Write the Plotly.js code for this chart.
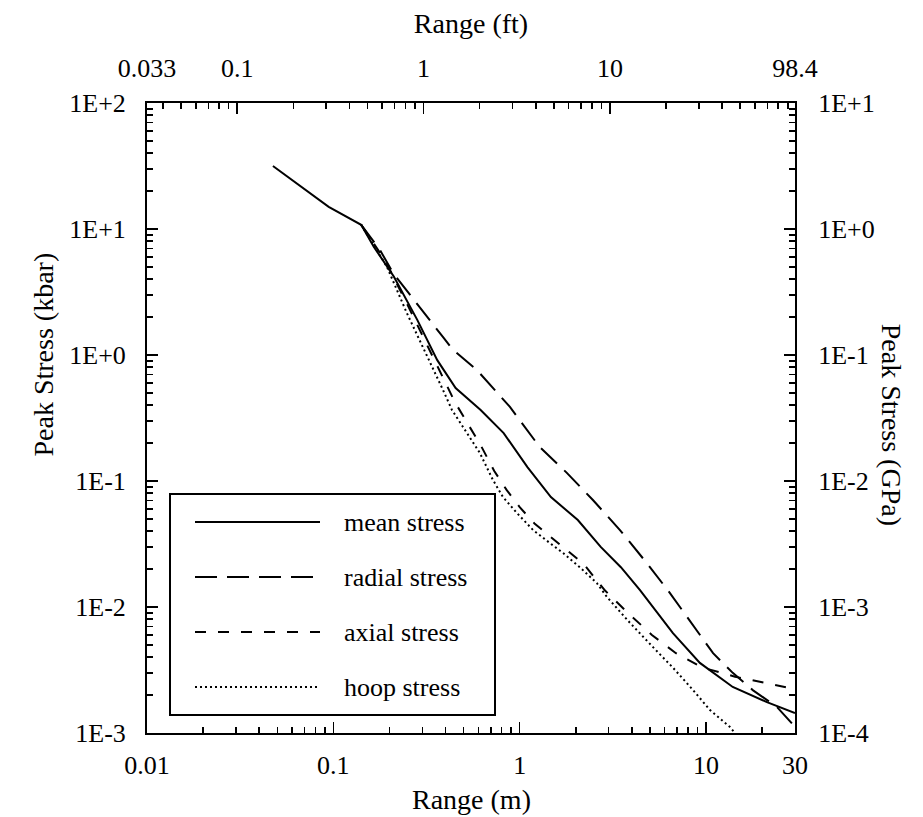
<!DOCTYPE html>
<html>
<head>
<meta charset="utf-8">
<script src="https://cdn.plot.ly/plotly-3.0.1.min.js"></script>
<style>html,body{margin:0;padding:0;background:#fff;}#chart{width:923px;height:817px;}</style>
</head>
<body>
<div id="chart"></div>
<script>
// ---- data (Range in m, Peak stress in kbar) ----
const seriesNames = ["mean stress", "radial stress", "axial stress", "hoop stress"];

const meanRange  = [0.0474, 0.0944, 0.141, 0.165, 0.211, 0.282, 0.361, 0.453, 0.617, 0.82, 1.10, 1.47, 2.05, 2.72, 3.49, 4.42, 6.64, 9.26, 13.9, 21.2, 30];
const meanStress = [31.6, 15.0, 10.8, 7.2, 4.2, 1.9, 0.91, 0.547, 0.366, 0.24, 0.129, 0.0746, 0.049, 0.030, 0.0207, 0.0136, 0.0062, 0.0036, 0.00232, 0.00176, 0.00144];

const radialRange  = [0.141, 0.178, 0.209, 0.292, 0.387, 0.438, 0.589, 0.886, 1.28, 1.79, 2.47, 3.45, 4.81, 6.40, 7.89, 10.9, 13.9, 17.8, 24.0, 30];
const radialStress = [10.8, 6.8, 4.48, 2.40, 1.39, 1.10, 0.76, 0.387, 0.186, 0.116, 0.0706, 0.0408, 0.0223, 0.0129, 0.0083, 0.0043, 0.0030, 0.00219, 0.00161, 0.00112];

const axialRange  = [0.141, 0.19, 0.25, 0.31, 0.36, 0.40, 0.45, 0.53, 0.62, 0.73, 0.85, 1.0, 1.2, 1.5, 1.8, 2.2, 2.87, 3.80, 5.12, 6.89, 9.6, 14.3, 20.7, 27];
const axialStress = [10.8, 5.6, 2.5, 1.3, 0.85, 0.6, 0.42, 0.28, 0.19, 0.12, 0.085, 0.062, 0.046, 0.035, 0.028, 0.022, 0.0135, 0.009, 0.006, 0.0043, 0.0033, 0.0028, 0.0025, 0.0023];

const hoopRange  = [0.141, 0.194, 0.248, 0.303, 0.342, 0.387, 0.433, 0.521, 0.611, 0.718, 0.813, 0.966, 1.18, 1.45, 1.71, 2.10, 2.59, 2.94, 3.90, 5.19, 6.64, 8.49, 10.5, 13.4, 14.3];
const hoopStress = [10.8, 5.0, 2.15, 1.16, 0.80, 0.53, 0.366, 0.24, 0.167, 0.102, 0.0746, 0.0557, 0.0408, 0.0322, 0.0268, 0.0207, 0.0155, 0.012, 0.0075, 0.0048, 0.0033, 0.0022, 0.00152, 0.00112, 0.001];

// ---- tick labels ----
const bottomTickVals = [0.01, 0.1, 1, 10, 30];
const bottomTickText = ["0.01", "0.1", "1", "10", "30"];
const topTickVals = [0.0328084, 0.1, 1, 10, 98.4252];
const topTickText = ["0.033", "0.1", "1", "10", "98.4"];
const leftTickVals = [0.001, 0.01, 0.1, 1, 10, 100];
const leftTickText = ["1E-3", "1E-2", "1E-1", "1E+0", "1E+1", "1E+2"];
const rightTickVals = [0.0001, 0.001, 0.01, 0.1, 1, 10];
const rightTickText = ["1E-4", "1E-3", "1E-2", "1E-1", "1E+0", "1E+1"];

const M_TO_FT = 3.28084;
const KBAR_TO_GPA = 0.1;

function minorVals(lo, hi) {
  const out = [];
  for (let d = lo; d < hi; d++) {
    for (let k = 2; k <= 9; k++) out.push(k * Math.pow(10, d));
  }
  return out;
}

const FONT = "Liberation Serif, Times New Roman, serif";
const FS = 26;      // tick labels
const FT = 28;      // axis titles
const FL = 26;      // legend text
const dashes = ["solid", "22px,10px", "11px,12px", "2px,3px"];
const xs = [meanRange, radialRange, axialRange, hoopRange];
const ys = [meanStress, radialStress, axialStress, hoopStress];

const traces = seriesNames.map((n, i) => ({
  type: "scatter", mode: "lines", name: n,
  x: xs[i], y: ys[i],
  line: {color: "#000", width: 2, dash: dashes[i]},
  showlegend: false, hoverinfo: "x+y+name"
}));
// mean stress again in ft / GPa units on the secondary axes (coincides exactly)
traces.push({
  type: "scatter", mode: "lines", name: "mean stress (ft, GPa)",
  x: meanRange.map(v => v * M_TO_FT), y: meanStress.map(v => v * KBAR_TO_GPA),
  xaxis: "x2", yaxis: "y2",
  line: {color: "rgba(0,0,0,0)", width: 0}, showlegend: false, hoverinfo: "skip"
});

const xMin = 0.01, xMax = 30;
const axCommon = {
  type: "log", showline: true, linecolor: "#000", linewidth: 2,
  ticks: "inside", ticklen: 11, tickwidth: 1.5, tickcolor: "#000",
  showgrid: false, zeroline: false, tickmode: "array",
  tickfont: {family: FONT, size: FS, color: "#000"},
  fixedrange: true
};
const minorCommon = {ticks: "inside", ticklen: 6, tickwidth: 1.5, tickcolor: "#000"};

const layout = {
  width: 923, height: 817,
  margin: {l: 147, r: 128, t: 103, b: 84},
  paper_bgcolor: "#fff", plot_bgcolor: "#fff",
  font: {family: FONT, color: "#000"},
  xaxis: Object.assign({}, axCommon, {
    range: [Math.log10(xMin), Math.log10(xMax)],
    tickvals: bottomTickVals, ticktext: bottomTickText,
    ticklabelstandoff: 8,
    minor: Object.assign({tickvals: minorVals(-2, 2).filter(v => v < xMax)}, minorCommon)
  }),
  xaxis2: Object.assign({}, axCommon, {
    overlaying: "x", side: "top", anchor: "y2",
    range: [Math.log10(xMin * M_TO_FT), Math.log10(xMax * M_TO_FT)],
    tickvals: topTickVals, ticktext: topTickText,
    ticklabelstandoff: 14,
    minor: Object.assign({tickvals: minorVals(-2, 2).filter(v => v > xMin * M_TO_FT && v < xMax * M_TO_FT)}, minorCommon),
    title: {text: "Range (ft)", font: {family: FONT, size: FT, color: "#000"}, standoff: 12}
  }),
  yaxis: Object.assign({}, axCommon, {
    range: [-3, 2],
    tickvals: leftTickVals, ticktext: leftTickText,
    ticklabelstandoff: 14,
    minor: Object.assign({tickvals: minorVals(-3, 2)}, minorCommon)
  }),
  yaxis2: Object.assign({}, axCommon, {
    overlaying: "y", side: "right", anchor: "x2",
    range: [-4, 1],
    tickvals: rightTickVals, ticktext: rightTickText,
    ticklabelstandoff: 16,
    minor: Object.assign({tickvals: minorVals(-4, 1)}, minorCommon)
  }),
  shapes: [],
  annotations: [
    {text: "Range (m)", xref: "paper", yref: "paper", x: 0.5, y: 0, yshift: -66,
     yanchor: "middle", showarrow: false, font: {family: FONT, size: FT, color: "#000"}},
    {text: "Peak Stress (kbar)", xref: "paper", yref: "paper", x: 0, xshift: -122, y: 0.6,
     textangle: -90, showarrow: false, font: {family: FONT, size: FT, color: "#000"}},
    {text: "Peak Stress (GPa)", xref: "paper", yref: "paper", x: 1, xshift: 114, y: 0.49,
     textangle: 90, showarrow: false, font: {family: FONT, size: FT, color: "#000"}}
  ]
};

// ---- custom legend (box with long line samples) ----
const legX0 = 170, legX1 = 495, legY0 = 494, legY1 = 715; // pixel box
const plotL = 147, plotT = 103, plotW = 923 - 147 - 128, plotH = 817 - 103 - 84;
const px = x => (x - plotL) / plotW;
const py = y => 1 - (y - plotT) / plotH;
layout.shapes.push({type: "rect", xref: "paper", yref: "paper",
  x0: px(legX0), x1: px(legX1), y0: py(legY0), y1: py(legY1),
  line: {color: "#000", width: 2}, fillcolor: "#fff", layer: "above"});
const rowY = [522, 577, 632, 687];
seriesNames.forEach((n, i) => {
  layout.shapes.push({type: "line", xref: "paper", yref: "paper",
    x0: px(195), x1: px(320), y0: py(rowY[i]), y1: py(rowY[i]),
    line: {color: "#000", width: 2, dash: dashes[i]}, layer: "above"});
  layout.annotations.push({text: n, xref: "paper", yref: "paper",
    x: px(342), y: py(rowY[i]), xanchor: "left", yanchor: "middle", showarrow: false,
    font: {family: FONT, size: FL, color: "#000"}});
});

Plotly.newPlot("chart", traces, layout, {displayModeBar: false, staticPlot: true});
</script>
</body>
</html>
